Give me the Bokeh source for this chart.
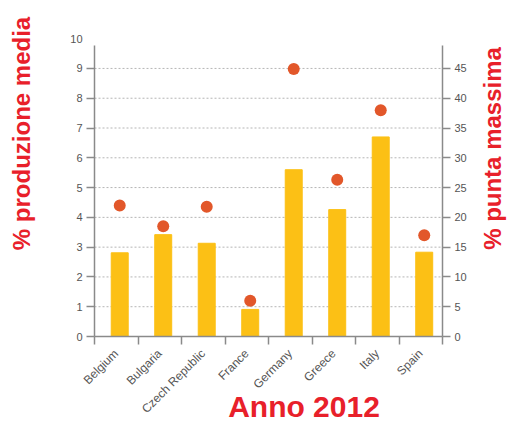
import math
from bokeh.plotting import figure
from bokeh.models import Range1d, LinearAxis, FixedTicker, Label
from bokeh.embed import file_html
from bokeh.resources import INLINE

countries = ["Belgium", "Bulgaria", "Czech Republic", "France",
             "Germany", "Greece", "Italy", "Spain"]
produzione_media = [2.81, 3.42, 3.13, 0.91, 5.60, 4.26, 6.70, 2.83]
punta_massima = [22.0, 18.5, 21.8, 6.0, 44.9, 26.3, 38.0, 17.0]
left_ticks = [0, 1, 2, 3, 4, 5, 6, 7, 8, 9]
left_extra_tick = 10
right_ticks = [0, 5, 10, 15, 20, 25, 30, 35, 40, 45]
left_axis_max = 9.77
right_factor = 5

FONT = "Liberation Sans"
RED = "#E8202A"
GRAY = "#555555"
AXIS = "#8a8a8a"

# pixel layout of the plotting area inside the canvas
W, H = 507, 423
FL, FR, FT, FB = 94, 442, 45, 336

n = len(countries)
xs_px = (FR - FL) / n
ys_px = (FB - FT) / left_axis_max
x_rng = Range1d(-FL / xs_px, n + (W - FR) / xs_px)
y_rng = Range1d(-(H - FB) / ys_px, left_axis_max + FT / ys_px)

def px_x(sx):
    return (sx - FL) / xs_px

def px_y(sy):
    return (FB - sy) / ys_px

p = figure(width=W, height=H, output_backend="svg", toolbar_location=None,
           x_range=x_rng, y_range=y_rng, min_border=0,
           min_border_left=0, min_border_right=0, min_border_top=0,
           min_border_bottom=0, y_axis_location=None, x_axis_location=None)
p.extra_y_ranges = {"peak": Range1d(y_rng.start * right_factor,
                                    y_rng.end * right_factor)}
p.outline_line_color = None
p.background_fill_color = "white"
p.border_fill_color = "white"
p.xgrid.visible = False
p.ygrid.visible = False

# dotted horizontal grid lines between the two axes
grid_vals = left_ticks[1:]
p.segment(x0=[0] * len(grid_vals), x1=[n] * len(grid_vals), y0=grid_vals,
          y1=grid_vals, line_color="#b5b5b5", line_dash="2 2", line_width=1)

centers = [i + 0.5 for i in range(n)]
xs = [c + 0.08 for c in centers]
p.vbar(x=xs, top=produzione_media, width=0.39, color="#FCC015")
p.scatter(x=xs, y=punta_massima, y_range_name="peak", size=12,
          color="#E2572A", line_color=None)

# x axis
xax = LinearAxis(ticker=FixedTicker(ticks=centers, minor_ticks=list(range(n + 1))),
                 fixed_location=0, bounds=(0, n))
xax.major_label_overrides = {c: name for c, name in zip(centers, countries)}
xax.major_label_orientation = math.pi / 4
xax.major_tick_in = 0
xax.major_tick_out = 0
xax.minor_tick_in = 0
xax.minor_tick_out = 8
xax.minor_tick_line_color = AXIS
xax.minor_tick_line_width = 1.5
xax.axis_line_color = AXIS
xax.axis_line_width = 1.5
xax.major_label_standoff = 7
xax.major_label_text_font = FONT
xax.major_label_text_font_size = "12px"
xax.major_label_text_color = GRAY
p.add_layout(xax, "below")

lax = LinearAxis(ticker=FixedTicker(ticks=left_ticks), fixed_location=0,
                 bounds=(0, left_axis_max))
rax = LinearAxis(ticker=FixedTicker(ticks=right_ticks), y_range_name="peak",
                 fixed_location=n, bounds=(0, left_axis_max * right_factor))
for ax in (lax, rax):
    ax.major_tick_in = 0
    ax.major_tick_out = 8
    ax.minor_tick_line_color = None
    ax.major_tick_line_color = AXIS
    ax.major_tick_line_width = 1.5
    ax.axis_line_color = AXIS
    ax.axis_line_width = 1.5
    ax.major_label_standoff = 4
    ax.major_label_text_font = FONT
    ax.major_label_text_font_size = "11px"
    ax.major_label_text_color = GRAY
p.add_layout(lax, "left")
p.add_layout(rax, "right")

# orphan "10" tick label at the top of the left axis
p.add_layout(Label(x=0, y=left_extra_tick, x_offset=-12, text=str(left_extra_tick),
                   text_align="right", text_baseline="middle",
                   text_font=FONT, text_font_size="11px", text_color=GRAY))

p.add_layout(Label(x=px_x(21), y=px_y(133), text="% produzione media",
                   angle=math.pi / 2, text_align="center", text_baseline="middle",
                   text_font=FONT, text_font_size="24px", text_font_style="bold",
                   text_color=RED))
p.add_layout(Label(x=px_x(492), y=px_y(148), text="% punta massima",
                   angle=math.pi / 2, text_align="center", text_baseline="middle",
                   text_font=FONT, text_font_size="24px", text_font_style="bold",
                   text_color=RED))
p.add_layout(Label(x=px_x(303.5), y=px_y(406), text="Anno 2012",
                   text_align="center", text_baseline="middle",
                   text_font=FONT, text_font_size="30px", text_font_style="bold",
                   text_color=RED))

open("out.html", "w").write(file_html(p, INLINE))
